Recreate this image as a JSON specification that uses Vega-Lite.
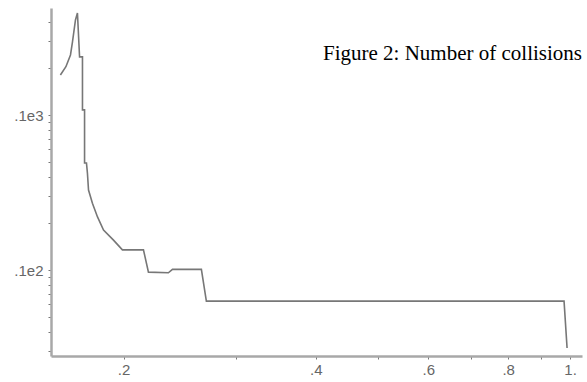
{
  "$schema": "https://vega.github.io/schema/vega-lite/v6.json",
  "width": 531,
  "height": 348,
  "autosize": "none",
  "padding": {"left": 51, "top": 8, "right": 5, "bottom": 26},
  "background": "white",
  "title": {
    "text": "Figure 2: Number of collisions",
    "anchor": "end",
    "orient": "top",
    "font": "Liberation Serif",
    "fontSize": 21,
    "fontWeight": "normal",
    "color": "#000000",
    "baseline": "alphabetic",
    "offset": 0,
    "dy": 73
  },
  "config": {"view": {"stroke": null}},
  "data": {
    "values": [
      {"i": 1, "p": 0.1593, "c": 181},
      {"i": 2, "p": 0.1625, "c": 205},
      {"i": 3, "p": 0.1652, "c": 244},
      {"i": 4, "p": 0.1664, "c": 296},
      {"i": 5, "p": 0.1682, "c": 410},
      {"i": 6, "p": 0.1694, "c": 455},
      {"i": 7, "p": 0.1707, "c": 237},
      {"i": 8, "p": 0.1725, "c": 237},
      {"i": 9, "p": 0.1725, "c": 108},
      {"i": 10, "p": 0.1738, "c": 108},
      {"i": 11, "p": 0.1738, "c": 49},
      {"i": 12, "p": 0.175, "c": 49},
      {"i": 13, "p": 0.1756, "c": 42.3},
      {"i": 14, "p": 0.1763, "c": 32.8},
      {"i": 15, "p": 0.1788, "c": 27},
      {"i": 16, "p": 0.1821, "c": 22},
      {"i": 17, "p": 0.1861, "c": 18.1},
      {"i": 18, "p": 0.1929, "c": 15.6},
      {"i": 19, "p": 0.1992, "c": 13.5},
      {"i": 20, "p": 0.2149, "c": 13.5},
      {"i": 21, "p": 0.2188, "c": 9.7},
      {"i": 22, "p": 0.2351, "c": 9.6},
      {"i": 23, "p": 0.2386, "c": 10.1},
      {"i": 24, "p": 0.2648, "c": 10.1},
      {"i": 25, "p": 0.2696, "c": 6.3},
      {"i": 26, "p": 0.9786, "c": 6.3},
      {"i": 27, "p": 0.9893, "c": 3.14}
    ]
  },
  "mark": {"type": "line", "color": "#777777", "strokeWidth": 1.6, "clip": true},
  "encoding": {
    "order": {"field": "i", "type": "quantitative"},
    "x": {
      "field": "p",
      "type": "quantitative",
      "scale": {"type": "log", "domain": [0.154, 1.044], "nice": false, "zero": false},
      "axis": {
        "title": null,
        "grid": false,
        "values": [0.2, 0.3, 0.4, 0.5, 0.6, 0.7, 0.8, 0.9, 1.0],
        "labelExpr": "datum.value == 0.2 ? '.2' : datum.value == 0.4 ? '.4' : datum.value == 0.6 ? '.6' : datum.value == 0.8 ? '.8' : datum.value == 1 ? '1.' : ''",
        "domainColor": "#a8a8a8",
        "domainWidth": 2.5,
        "tickColor": "#777777",
        "tickSize": 3,
        "labelColor": "#666666",
        "labelFont": "Liberation Sans",
        "labelFontSize": 15,
        "labelPadding": 3,
        "labelFlush": false,
        "labelOverlap": false
      }
    },
    "y": {
      "field": "c",
      "type": "quantitative",
      "scale": {"type": "log", "domain": [2.79, 490], "nice": false, "zero": false},
      "axis": {
        "title": null,
        "grid": false,
        "values": [3, 4, 5, 6, 7, 8, 9, 10, 20, 30, 40, 50, 60, 70, 80, 90, 100, 200, 300, 400],
        "labelExpr": "datum.value == 100 ? '.1e3' : datum.value == 10 ? '.1e2' : ''",
        "domainColor": "#a8a8a8",
        "domainWidth": 2.5,
        "tickColor": "#777777",
        "tickSize": 3,
        "labelColor": "#666666",
        "labelFont": "Liberation Sans",
        "labelFontSize": 15,
        "labelPadding": 5,
        "labelFlush": false,
        "labelOverlap": false
      }
    }
  }
}
